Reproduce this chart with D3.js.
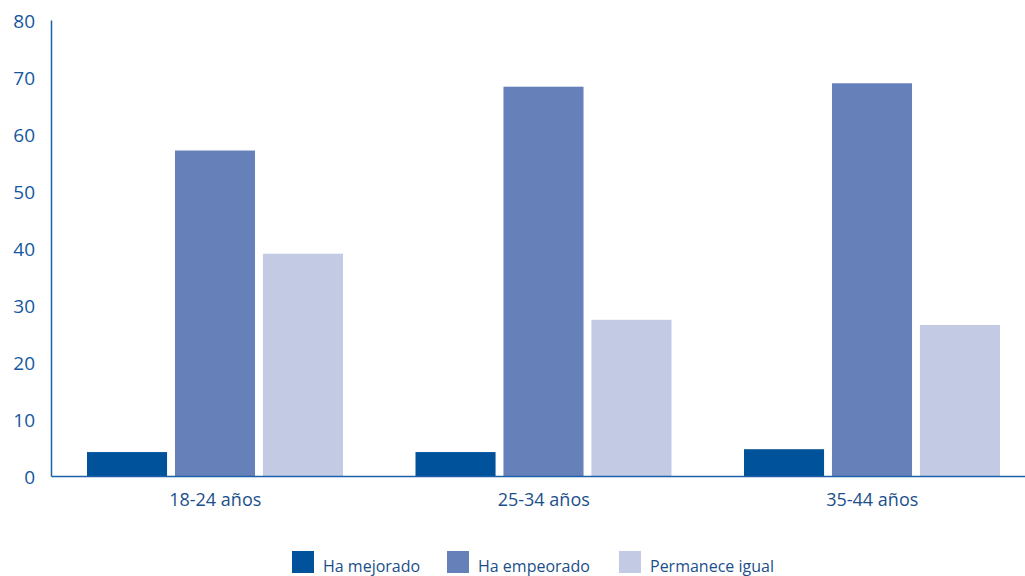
<!DOCTYPE html>
<html><head><meta charset="utf-8">
<script src="https://cdn.jsdelivr.net/npm/d3@7"></script>
<style>body{margin:0;background:#fff}svg{display:block}text{font-family:"Open Sans","Noto Sans",sans-serif}</style>
</head><body><svg id="c" width="1025" height="576"></svg>
<script>
const categories = ["18-24 años", "25-34 años", "35-44 años"];
const seriesNames = ["Ha mejorado", "Ha empeorado", "Permanece igual"];
const haMejorado = [4.2, 4.2, 4.7];
const haEmpeorado = [57.1, 68.3, 68.9];
const permaneceIgual = [39.0, 27.4, 26.5];
const yTicks = [0, 10, 20, 30, 40, 50, 60, 70, 80];
const colors = ["#00529b", "#6681b9", "#c3cae3"];
const textColor = "#15589f";

const seriesValues = [haMejorado, haEmpeorado, permaneceIgual];
const svg = d3.select("#c");
const x0 = 51, yBottom = 476, yTop = 20;
const x = d3.scaleBand().domain(categories).range([x0, x0 + 3 * 328.5]).paddingInner(0).paddingOuter(0);
const x1 = d3.scaleBand().domain(seriesNames).range([36, 328.5 - 36.5]).paddingInner(0.09).paddingOuter(0);
const y = d3.scaleLinear().domain([0, 80]).range([yBottom, yTop]);

// bars
categories.forEach((c, i) => {
  const g = svg.append("g").attr("transform", `translate(${x(c)},0)`);
  seriesNames.forEach((s, j) => {
    const v = seriesValues[j][i];
    g.append("rect").attr("x", x1(s)).attr("width", x1.bandwidth())
      .attr("y", y(v)).attr("height", y(0) - y(v)).attr("fill", colors[j]);
  });
});

// y axis
const yAxis = d3.axisLeft(y).tickValues(yTicks).tickSize(0).tickPadding(16);
const ya = svg.append("g").attr("transform", `translate(${x0},0)`).call(yAxis);
ya.select(".domain").attr("stroke", "#1d5fa8").attr("stroke-width", 1.5);
ya.selectAll("text").attr("fill", textColor).style("font-size", "19px").style("font-weight", "500").attr("dy", "0.42em");

// x axis
const xAxis = d3.axisBottom(x).tickSize(0).tickPadding(17);
const xa = svg.append("g").attr("transform", `translate(0,${yBottom})`).call(xAxis);
xa.select(".domain").attr("stroke", "#1d5fa8").attr("stroke-width", 1.5);
xa.selectAll("text").attr("fill", "#1b4f8a").style("font-size", "18px");

// legend
const legendX = [292, 447, 619];
seriesNames.forEach((s, j) => {
  const g = svg.append("g").attr("transform", `translate(${legendX[j]},551)`);
  g.append("rect").attr("width", 22).attr("height", 22).attr("fill", colors[j]);
  g.append("text").attr("x", 31).attr("y", 21).attr("fill", "#1b4f8a")
    .style("font-size", "16px").text(s);
});
</script></body></html>
